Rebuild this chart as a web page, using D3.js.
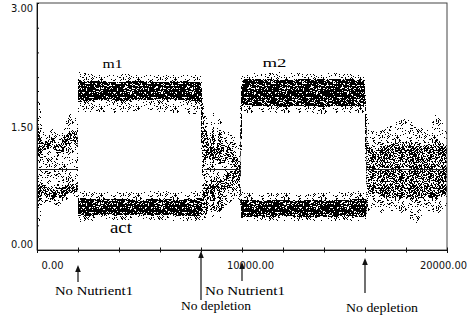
<!DOCTYPE html>
<html>
<head>
<meta charset="utf-8">
<script src="https://cdn.jsdelivr.net/npm/d3@7"></script>
<style>
  body { margin: 0; background: #fff; }
  .tick text { font-family: "Liberation Sans Narrow", "DejaVu Sans Condensed", sans-serif; font-size: 11px; fill: #111; }
  .note { font-family: "Liberation Serif", "DejaVu Serif", serif; fill: #000; }
</style>
</head>
<body>
<svg id="chart" width="468" height="323"></svg>
<script>
// time knots of the simulation
const time = [
  0, 100, 250, 500, 750, 1000, 1250, 1500, 1750, 1980,
  2000, 3000, 4000, 5000, 6000, 7000, 8000, 8050,
  8150, 8300, 8420, 8600, 8730, 8900, 9050, 9170, 9300, 9500, 9700, 9900, 9950,
  10000, 11000, 12000, 13000, 14000, 15000, 16000, 16050,
  16200, 16500, 17000, 17500, 18000, 18500, 19000, 19500, 20000
];

// m (m1 / m2) scatter: outer spread and dense core
const mOuterLo = [1.00, 0.95, 0.90, 0.95, 0.90, 0.85, 0.90, 0.95, 1.00, 0.95,
  1.66, 1.68, 1.66, 1.70, 1.68, 1.66, 1.65, 0.55,
  0.90, 0.90, 0.95, 0.90, 0.95, 0.90, 0.90, 0.95, 0.90, 0.85, 0.80, 0.75, 0.70,
  1.66, 1.68, 1.66, 1.67, 1.65, 1.67, 1.66, 0.45,
  0.85, 0.85, 0.85, 0.85, 0.85, 0.85, 0.85, 0.85, 0.85];
const mCoreLo = [1.20, 1.10, 1.20, 1.22, 1.25, 1.15, 1.20, 1.28, 1.30, 1.25,
  1.80, 1.82, 1.81, 1.82, 1.83, 1.82, 1.80, 0.80,
  1.05, 1.10, 1.10, 1.05, 1.10, 1.05, 1.05, 1.05, 1.15, 1.05, 0.95, 0.85, 0.90,
  1.76, 1.75, 1.74, 1.75, 1.74, 1.75, 1.75, 0.75,
  1.00, 0.98, 1.00, 0.98, 1.00, 0.98, 1.00, 1.00, 0.98];
const mCoreHi = [1.80, 1.45, 1.32, 1.32, 1.38, 1.28, 1.32, 1.42, 1.45, 1.40,
  2.06, 2.05, 2.04, 2.06, 2.04, 2.05, 2.04, 1.90,
  1.50, 1.45, 1.18, 1.55, 1.16, 1.50, 1.40, 1.12, 1.30, 1.25, 1.15, 1.05, 1.90,
  2.07, 2.08, 2.06, 2.08, 2.07, 2.08, 2.06, 1.55,
  1.25, 1.20, 1.28, 1.30, 1.32, 1.28, 1.25, 1.35, 1.25];
const mOuterHi = [2.06, 1.90, 1.45, 1.38, 1.49, 1.42, 1.45, 1.60, 1.70, 1.55,
  2.16, 2.12, 2.13, 2.14, 2.12, 2.13, 2.12, 2.05,
  1.65, 1.62, 1.40, 1.70, 1.38, 1.68, 1.62, 1.40, 1.45, 1.40, 1.35, 1.30, 2.10,
  2.15, 2.14, 2.16, 2.14, 2.15, 2.14, 2.13, 1.70,
  1.50, 1.42, 1.48, 1.55, 1.60, 1.52, 1.45, 1.66, 1.45];

// act scatter: outer spread and dense core
const actOuterLo = [0.21, 0.30, 0.55, 0.60, 0.55, 0.52, 0.58, 0.62, 0.62, 0.64,
  0.34, 0.36, 0.37, 0.36, 0.37, 0.35, 0.36, 0.36,
  0.38, 0.36, 0.50, 0.33, 0.48, 0.35, 0.38, 0.50, 0.55, 0.60, 0.62, 0.60, 0.36,
  0.35, 0.36, 0.35, 0.36, 0.35, 0.36, 0.34, 0.34,
  0.45, 0.50, 0.42, 0.50, 0.40, 0.33, 0.48, 0.42, 0.55];
const actCoreLo = [0.45, 0.55, 0.68, 0.62, 0.60, 0.66, 0.62, 0.70, 0.68, 0.70,
  0.41, 0.42, 0.42, 0.42, 0.43, 0.41, 0.42, 0.42,
  0.45, 0.45, 0.75, 0.45, 0.78, 0.45, 0.50, 0.80, 0.75, 0.75, 0.80, 0.75, 0.42,
  0.40, 0.40, 0.41, 0.40, 0.40, 0.41, 0.40, 0.40,
  0.65, 0.70, 0.62, 0.65, 0.62, 0.60, 0.65, 0.62, 0.68];
const actCoreHi = [0.95, 0.80, 0.80, 0.74, 0.72, 0.80, 0.76, 0.82, 0.80, 0.82,
  0.63, 0.62, 0.62, 0.61, 0.62, 0.61, 0.63, 0.62,
  0.90, 0.80, 0.82, 0.85, 0.84, 0.85, 0.85, 0.86, 0.95, 0.95, 1.00, 0.92, 0.65,
  0.61, 0.60, 0.61, 0.60, 0.61, 0.61, 0.62, 0.65,
  1.00, 1.00, 0.98, 1.00, 0.98, 0.98, 1.00, 0.98, 1.00];
const actOuterHi = [1.10, 1.05, 1.05, 1.00, 1.00, 1.05, 1.05, 1.00, 1.00, 1.05,
  0.72, 0.70, 0.71, 0.70, 0.72, 0.70, 0.72, 0.70,
  1.05, 1.00, 1.00, 1.00, 1.00, 1.00, 1.00, 1.00, 1.10, 1.10, 1.05, 1.00, 0.72,
  0.70, 0.69, 0.70, 0.68, 0.70, 0.70, 0.72, 0.72,
  1.10, 1.10, 1.10, 1.10, 1.10, 1.10, 1.10, 1.10, 1.10];

// separated phases (tight bands) vs mixed phases (steady level line shows)
const bandSpans = [[1990, 8050], [9940, 16060]];
const refLevel = 0.98;
const refSpans = [[0, 2000], [8150, 9900], [16100, 20000]];

// events marked under the axis
const eventTimes = [2000, 8000, 10000, 16000];
const eventLabels = ["No Nutrient1", "No depletion", "No Nutrient1", "No depletion"];

// axis ticks
const xTicks = [0, 2000, 4000, 6000, 8000, 10000, 12000, 14000, 16000, 18000, 20000];
const xLabelled = [0, 10000, 20000];
const yTicks = [0, 0.3, 0.6, 0.9, 1.2, 1.5, 1.8, 2.1, 2.4, 2.7, 3.0];
const yLabelled = [0, 1.5, 3];

const svg = d3.select("#chart");

const x = d3.scaleLinear().domain([0, 20000]).range([37, 447]);
const y = d3.scaleLinear().domain([0, 3]).range([250, 3]);

// stipple textures imitating the point clouds
const defs = svg.append("defs");
function grain(i, j, seed) {
  let h = Math.imul(i + 1, 73856093) ^ Math.imul(j + 1, 19349663) ^ Math.imul(seed, 83492791);
  h = Math.imul(h ^ (h >>> 13), 1274126177);
  return ((h ^ (h >>> 16)) >>> 0) / 4294967296;
}
function stipple(id, w, h, density, seed) {
  const pts = [];
  for (let j = 0; j < h; j++)
    for (let i = 0; i < w; i++)
      if (grain(i, j, seed) < density) pts.push([i, j]);
  const p = defs.append("pattern")
    .attr("id", id)
    .attr("patternUnits", "userSpaceOnUse")
    .attr("width", w).attr("height", h);
  p.selectAll("rect").data(pts).join("rect")
    .attr("x", d => d[0]).attr("y", d => d[1])
    .attr("width", 1).attr("height", 1)
    .attr("fill", "#000");
}
stipple("dense", 31, 23, 0.76, 3);
stipple("medium", 29, 19, 0.42, 7);
stipple("halo", 37, 29, 0.15, 11);

defs.append("clipPath").attr("id", "clipBand")
  .selectAll("rect").data(bandSpans).join("rect")
  .attr("x", d => x(d[0])).attr("width", d => x(d[1]) - x(d[0]))
  .attr("y", 0).attr("height", 323);
defs.append("clipPath").attr("id", "clipMix")
  .selectAll("rect").data([[0, bandSpans[0][0]], [bandSpans[0][1], bandSpans[1][0]], [bandSpans[1][1], 20000]]).join("rect")
  .attr("x", d => x(d[0])).attr("width", d => x(d[1]) - x(d[0]))
  .attr("y", 0).attr("height", 323);

const rows = time.map((t, i) => ({
  t,
  m: [mOuterLo[i], mCoreLo[i], mCoreHi[i], mOuterHi[i]],
  act: [actOuterLo[i], actCoreLo[i], actCoreHi[i], actOuterHi[i]]
}));

const band = (key, lo, hi) => d3.area()
  .x(d => x(d.t))
  .y0(d => y(d[key][lo]))
  .y1(d => y(d[key][hi]));

const clouds = svg.append("g").attr("shape-rendering", "crispEdges");
for (const key of ["act", "m"]) {
  clouds.append("path").datum(rows)
    .attr("d", band(key, 0, 3))
    .attr("fill", "url(#halo)");
  clouds.append("path").datum(rows)
    .attr("d", band(key, 1, 2))
    .attr("clip-path", "url(#clipBand)")
    .attr("fill", "url(#dense)");
  clouds.append("path").datum(rows)
    .attr("d", band(key, 1, 2))
    .attr("clip-path", "url(#clipMix)")
    .attr("fill", "url(#medium)");
}

// steady level line
const yRef = Math.round(y(refLevel)) + 0.5;
svg.append("g").selectAll("line").data(refSpans).join("line")
  .attr("x1", d => x(d[0])).attr("x2", d => x(d[1]))
  .attr("y1", yRef).attr("y2", yRef)
  .attr("stroke", "#222").attr("stroke-width", 1);

// frame
svg.append("rect")
  .attr("x", x(0)).attr("y", y(3))
  .attr("width", x(20000) - x(0)).attr("height", y(0) - y(3))
  .attr("fill", "none").attr("stroke", "#444").attr("stroke-width", 1);

// x axis
const xAxis = svg.append("g")
  .attr("transform", `translate(0,${y(0)})`)
  .call(d3.axisBottom(x).tickValues(xTicks).tickSize(3).tickPadding(8)
    .tickFormat(d => xLabelled.includes(d) ? d3.format(".2f")(d) : ""));
xAxis.select(".domain").attr("stroke", "#111");
xAxis.selectAll(".tick line").attr("y1", -2.5).attr("y2", 2.5).attr("stroke", "#111");
const xShift = { 0: 15, 10000: 8, 20000: -4 };
xAxis.selectAll(".tick text").attr("dx", d => xShift[d] || 0);

// y axis (inward minor ticks, then labels)
const yAxis = svg.append("g")
  .attr("transform", `translate(${x(0)},0)`)
  .call(d3.axisLeft(y).tickValues(yTicks).tickSize(-2).tickFormat(""));
yAxis.select(".domain").attr("stroke", "#111");
yAxis.selectAll(".tick line").attr("stroke", "#111");

const yLab = svg.append("g")
  .attr("transform", `translate(${x(0)},0)`)
  .call(d3.axisLeft(y).tickValues(yLabelled).tickSize(0).tickPadding(4)
    .tickFormat(d3.format(".2f")));
yLab.select(".domain").remove();
yLab.selectAll(".tick text").attr("dy", d => d === 3 ? "0.75em" : d === 0 ? "-0.25em" : "0.32em");

// series labels
const notes = svg.append("g").attr("class", "note");
notes.append("text").attr("x", x(3200)).attr("y", y(2.21))
  .attr("font-size", 13).attr("textLength", 20).attr("lengthAdjust", "spacingAndGlyphs").text("m1");
notes.append("text").attr("x", x(11000)).attr("y", y(2.22))
  .attr("font-size", 13).attr("textLength", 24).attr("lengthAdjust", "spacingAndGlyphs").text("m2");
notes.append("text").attr("x", x(3560)).attr("y", y(0.21))
  .attr("font-size", 17).attr("textLength", 22).attr("lengthAdjust", "spacingAndGlyphs").text("act");

// event arrows and captions
const arrowTop = [265, 251, 262, 258];
const arrowBottom = [282, 300, 281, 293];
const captionShift = [16, 15, 3, 17];
const captionBase = [295, 310, 295, 312];
const captionWidth = [78, 70, 80, 72];

const ev = svg.append("g").selectAll("g").data(eventTimes).join("g");
ev.append("line")
  .attr("x1", d => x(d)).attr("x2", d => x(d))
  .attr("y1", (d, i) => arrowTop[i] + 5).attr("y2", (d, i) => arrowBottom[i])
  .attr("stroke", "#111").attr("stroke-width", 1.2);
ev.append("path")
  .attr("d", (d, i) => `M${x(d)},${arrowTop[i]} l-2.8,7 l5.6,0 z`)
  .attr("fill", "#111");
ev.append("text").attr("class", "note")
  .attr("x", (d, i) => x(d) + captionShift[i])
  .attr("y", (d, i) => captionBase[i])
  .attr("text-anchor", "middle")
  .attr("font-size", 12.5)
  .attr("textLength", (d, i) => captionWidth[i])
  .attr("lengthAdjust", "spacingAndGlyphs")
  .text((d, i) => eventLabels[i]);
</script>
</body>
</html>
